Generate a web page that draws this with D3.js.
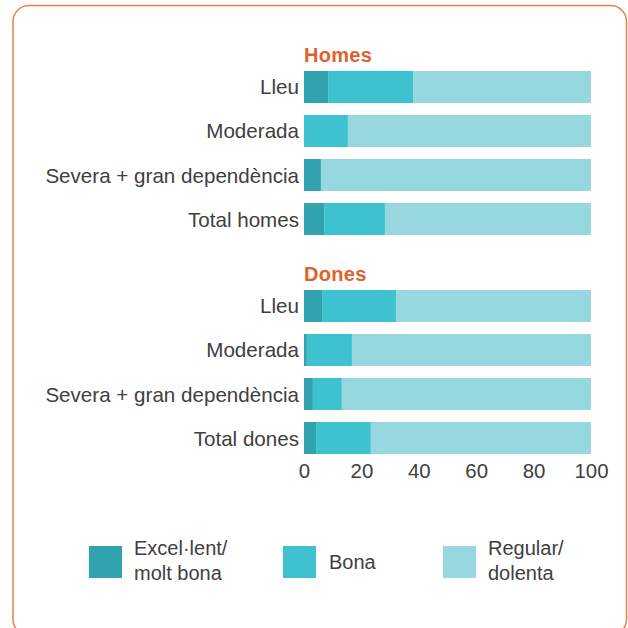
<!DOCTYPE html>
<html><head><meta charset="utf-8">
<script src="https://cdn.jsdelivr.net/npm/d3@7"></script>
<style>body{margin:0;background:#fff}svg{display:block}text{font-family:"Liberation Sans",Arial,sans-serif}</style>
</head><body>
<svg id="c" width="628" height="628"></svg>
<script>
const categoriesHomes = ["Lleu","Moderada","Severa + gran dependència","Total homes"];
const categoriesDones = ["Lleu","Moderada","Severa + gran dependència","Total dones"];
const seriesNames = ["Excel·lent/ molt bona","Bona","Regular/ dolenta"];
const homesExcelent = [8.4, 0, 5.9, 7.0];
const homesBona = [29.6, 15.3, 0, 21.2];
const donesExcelent = [6.3, 1.0, 3.1, 4.2];
const donesBona = [25.8, 15.7, 10.1, 19.1];
const groupTitles = ["Homes","Dones"];
const xTicks = [0,20,40,60,80,100];
const colors = ["#31a3ae","#3ec2cf","#97d7df"];

const svg = d3.select("#c");
svg.append("rect").attr("x",13).attr("y",5.5).attr("width",613.5).attr("height",630)
  .attr("rx",16).attr("fill","none").attr("stroke","#e8804a").attr("stroke-width",1.5);

const x = d3.scaleLinear().domain([0,100]).range([304,591]);

function rows(cats, exc, bona){
  return cats.map((c,i)=>({cat:c, vals:[exc[i], bona[i], 100-exc[i]-bona[i]]}));
}
const groups = [
  {title:groupTitles[0], data:rows(categoriesHomes, homesExcelent, homesBona), range:[65,241]},
  {title:groupTitles[1], data:rows(categoriesDones, donesExcelent, donesBona), range:[284,460]}
];

groups.forEach((g,gi)=>{
  const y = d3.scaleBand().domain(g.data.map(d=>d.cat)).range(g.range).paddingInner(0.2727).paddingOuter(0.136);
  const gg = svg.append("g");
  gg.append("text").attr("x",x(0)).attr("y",g.range[0]-3.5).attr("fill","#e0622a")
    .attr("font-weight","bold").attr("font-size",20).attr("letter-spacing",0.3).text(g.title);
  g.data.forEach(d=>{
    const stack = d3.cumsum(d.vals);
    d.vals.forEach((v,k)=>{
      const x0 = k===0?0:stack[k-1];
      gg.append("rect").attr("x",x(x0)).attr("y",y(d.cat))
        .attr("width",x(x0+v)-x(x0)).attr("height",y.bandwidth()).attr("fill",colors[k]);
    });
    gg.append("text").attr("x",299).attr("y",y(d.cat)+y.bandwidth()/2+7.5)
      .attr("text-anchor","end").attr("font-size",20.6).attr("fill","#404040").text(d.cat);
  });
});

const ax = svg.append("g").attr("transform","translate(0,460)")
  .call(d3.axisBottom(x).tickValues(xTicks).tickSize(0).tickPadding(4).tickFormat(d3.format("d")));
ax.select(".domain").remove();
ax.selectAll("text").attr("font-size",20.4).attr("fill","#404040").attr("font-family","Liberation Sans, Arial, sans-serif");

const legend = [
  {x:89, lines:["Excel·lent/","molt bona"]},
  {x:283, lines:["Bona"]},
  {x:443, lines:["Regular/","dolenta"]}
];
legend.forEach((l,i)=>{
  svg.append("rect").attr("x",l.x).attr("y",546).attr("width",33).attr("height",32).attr("fill",colors[i]);
  const t = svg.append("text").attr("x",l.x+46).attr("font-size",20).attr("fill","#404040");
  if(l.lines.length===1){
    t.attr("y",569).text(l.lines[0]);
  } else {
    l.lines.forEach((s,j)=>t.append("tspan").attr("x",l.x+45).attr("y",555+j*25).text(s));
  }
});
</script>
</body></html>
